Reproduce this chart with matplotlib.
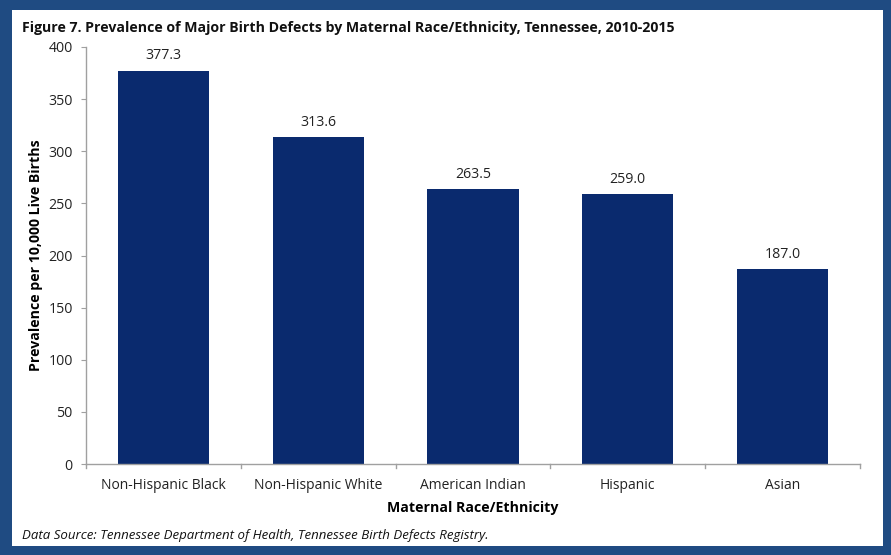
import matplotlib
matplotlib.use("Agg")
import matplotlib.pyplot as plt
from matplotlib.patches import Rectangle

categories = ["Non-Hispanic Black", "Non-Hispanic White", "American Indian", "Hispanic", "Asian"]
prevalence = [377.3, 313.6, 263.5, 259.0, 187.0]
y_ticks = [0, 50, 100, 150, 200, 250, 300, 350, 400]

plt.rcParams['font.family'] = ['Open Sans', 'DejaVu Sans']

W, H = 891, 555
fig = plt.figure(figsize=(W / 100, H / 100), dpi=100)
fig.patch.set_facecolor('#1f4b82')

# white panel inside the blue frame
panel = Rectangle((12 / W, 1 - 546 / H), (883 - 12) / W, (546 - 10) / H,
                  transform=fig.transFigure, facecolor='white',
                  edgecolor='none', zorder=-10)
fig.patches.append(panel)

ax = fig.add_axes([86 / W, 1 - 464 / H, (860 - 86) / W, (464 - 47) / H])
ax.set_zorder(5)
ax.set_facecolor('white')

x = range(len(categories))
ax.bar(x, prevalence, width=0.59, color='#0a2a6e', zorder=2)
for xi, v in zip(x, prevalence):
    ax.text(xi, v + 7, f"{v:.1f}", ha='center', va='bottom', fontsize=10.2, color='#222222')

ax.set_xlim(-0.5, len(categories) - 0.5)
ax.set_ylim(0, 400)
ax.set_yticks(y_ticks)
ax.set_yticklabels([str(t) for t in y_ticks], fontsize=10.2, color='#222222')
ax.set_xticks(list(x))
ax.set_xticklabels(categories, fontsize=10.0, color='#222222')
ax.tick_params(axis='x', length=0, pad=10)
ax.tick_params(axis='y', length=3.5, color='#a0a0a0', pad=6)

# category boundary ticks on the x-axis
for b in [i - 0.5 for i in range(len(categories) + 1)]:
    ax.plot([b, b], [0, -0.01 * 400], color='#a0a0a0', lw=1, clip_on=False)

for s in ['top', 'right']:
    ax.spines[s].set_visible(False)
for s in ['left', 'bottom']:
    ax.spines[s].set_color('#a0a0a0')
    ax.spines[s].set_linewidth(1)

ax.set_xlabel("Maternal Race/Ethnicity", fontsize=10.2, fontweight='bold', labelpad=6)
ax.set_ylabel("Prevalence per 10,000 Live Births", fontsize=10.2, fontweight='bold', labelpad=4)

fig.text(22 / W, 1 - 28 / H, "Figure 7. Prevalence of Major Birth Defects by Maternal Race/Ethnicity, Tennessee, 2010-2015",
         fontsize=10.2, fontweight='bold', va='center', ha='left', color='#111111')
fig.text(22 / W, 1 - 536 / H, "Data Source: Tennessee Department of Health, Tennessee Birth Defects Registry.",
         fontsize=9.5, style='italic', va='center', ha='left', color='#111111')

fig.savefig("out.png", dpi=100, facecolor=fig.get_facecolor())
